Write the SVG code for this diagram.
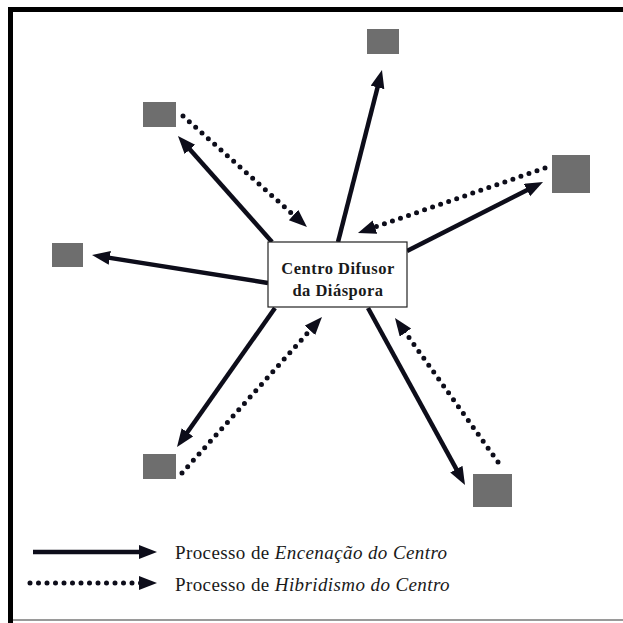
<svg xmlns="http://www.w3.org/2000/svg" width="623" height="623" viewBox="0 0 623 623">
<style>
.sq{fill:#6e6e6e}
.solid{fill:none;stroke:#0d0d1a;stroke-width:4.5;marker-end:url(#ah)}
.dot{fill:none;stroke:#0d0d1a;stroke-width:5;stroke-linecap:round;stroke-dasharray:0 8.5;marker-end:url(#ah)}
.ctr{font-family:"Liberation Serif","DejaVu Serif",serif;font-weight:bold;font-size:16.5px;letter-spacing:0.5px;fill:#1a1a1a;text-anchor:middle}
.leg{font-family:"Liberation Serif","DejaVu Serif",serif;font-size:19px;letter-spacing:0.4px;fill:#1a1a1a}
</style>
<defs>
<marker id="ah" markerUnits="userSpaceOnUse" markerWidth="20" markerHeight="16" refX="8" refY="7" orient="auto">
<path d="M0,0 L18,7 L0,14 z" fill="#0d0d1a"/>
</marker>
</defs>
<rect x="0" y="0" width="623" height="623" fill="#ffffff"/>
<g id="frame">
<rect x="8" y="7" width="615" height="5" fill="#000"/>
<rect x="8" y="7" width="5" height="616" fill="#000"/>
<rect x="13" y="619" width="610" height="2" fill="#9a9a9a"/>
</g>
<g id="connectors">
<path class="solid" d="M338,242 L379.5,79.7"/>
<path class="solid" d="M272,242 L184.6,143.5"/>
<path class="solid" d="M407,251 L534.1,186.5"/>
<path class="solid" d="M268,283 L101.9,256.6"/>
<path class="solid" d="M275,308 L182.8,438.8"/>
<path class="solid" d="M368,308 L460.2,476.2"/>
<path class="dot" d="M183,116 L299.5,220.3"/>
<path class="dot" d="M545,168 L367.4,229.7"/>
<path class="dot" d="M182,473 L315.3,324.4"/>
<path class="dot" d="M498,462 L400.8,326.1"/>
</g>
<g id="center">
<rect x="268" y="242" width="139" height="65" fill="#fff" stroke="#222" stroke-width="1.2"/>
<text class="ctr" x="338" y="274">Centro Difusor</text>
<text class="ctr" x="338" y="296">da Diáspora</text>
</g>
<g id="n-top"><rect class="sq" x="367" y="29" width="32" height="25"/></g>
<g id="n-upleft"><rect class="sq" x="143" y="102" width="33" height="25"/></g>
<g id="n-right"><rect class="sq" x="552" y="155" width="38" height="38"/></g>
<g id="n-left"><rect class="sq" x="52" y="243" width="31" height="24"/></g>
<g id="n-lowleft"><rect class="sq" x="143" y="454" width="33" height="25"/></g>
<g id="n-lowright"><rect class="sq" x="473" y="474" width="39" height="33"/></g>
<g id="legend">
<path class="solid" d="M33,552 L147,552"/>
<path class="dot" d="M30,583 L147,583"/>
<text class="leg" x="175" y="559">Processo de <tspan font-style="italic">Encenação do Centro</tspan></text>
<text class="leg" x="175" y="591">Processo de <tspan font-style="italic">Hibridismo do Centro</tspan></text>
</g>
</svg>
